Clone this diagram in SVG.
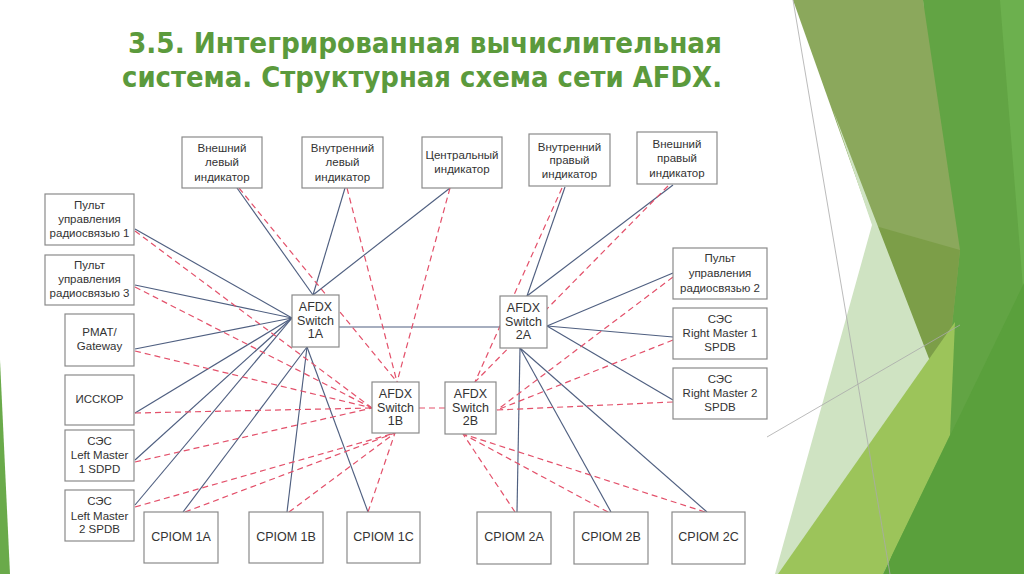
<svg xmlns="http://www.w3.org/2000/svg" width="1024" height="574" viewBox="0 0 1024 574">
<style>
.bx{fill:#fff;stroke:#8a8a8a;stroke-width:1.2}
.t{font-family:"Liberation Sans",Arial,sans-serif;font-size:11.5px;fill:#333;text-anchor:middle}
.ts{font-family:"Liberation Sans",Arial,sans-serif;font-size:12.5px;fill:#333;text-anchor:middle}
.a{stroke:#4f5f80;stroke-width:1.15;fill:none}
.b{stroke:#e3506a;stroke-width:1.2;stroke-dasharray:6 4;fill:none}
.title{font-family:"DejaVu Sans Condensed","Liberation Sans",sans-serif;font-weight:bold;font-size:29px;fill:#5b9a3c}
</style>
<rect width="1024" height="574" fill="#fff"/>
<g id="decor">
<polygon points="923,0 1024,0 1024,574 870,574 942,420" fill="#62a444"/>
<polygon points="1000,0 1024,0 1024,300" fill="#6cb04e"/>
<polygon points="793,0 923,0 960,250 942,420" fill="#8ba85c"/>
<polygon points="872,225 960,250 942,420" fill="#7c9e48"/>
<polygon points="833,110 872,225 775,574 885,574 945,400" fill="#cfe3c2"/>
<polygon points="778,574 883,574 950,435 955,322" fill="#9cc45a"/>
<polygon points="883,574 1024,574 1024,283" fill="#5aa03c"/>
<line x1="793" y1="0" x2="890" y2="574" stroke="#aaaaaa" stroke-width="0.8"/>
<line x1="767" y1="437" x2="960" y2="325" stroke="#aaaaaa" stroke-width="0.8"/>
<polygon points="0,360 10,574 0,574" fill="#6aaa4a"/>
</g>
<g id="title">
<text class="title" x="128" y="53" textLength="594" lengthAdjust="spacingAndGlyphs">3.5. Интегрированная вычислительная</text>
<text class="title" x="122" y="87" textLength="600" lengthAdjust="spacingAndGlyphs">система. Структурная схема сети AFDX.</text>
</g>
<g id="connectors">
<line class="a" x1="237" y1="188" x2="313" y2="295"/>
<line class="a" x1="345" y1="188" x2="313" y2="295"/>
<line class="a" x1="450" y1="188" x2="313" y2="295"/>
<line class="a" x1="135" y1="229" x2="292" y2="318"/>
<line class="a" x1="135" y1="285" x2="292" y2="318"/>
<line class="a" x1="135" y1="349" x2="292" y2="318"/>
<line class="a" x1="135" y1="413" x2="292" y2="318"/>
<line class="a" x1="135" y1="460" x2="292" y2="318"/>
<line class="a" x1="135" y1="505" x2="292" y2="318"/>
<line class="a" x1="183" y1="512" x2="307" y2="347"/>
<line class="a" x1="287" y1="512" x2="307" y2="347"/>
<line class="a" x1="368" y1="512" x2="307" y2="347"/>
<line class="a" x1="339" y1="327" x2="500" y2="327"/>
<line class="a" x1="565" y1="187" x2="527" y2="296"/>
<line class="a" x1="673" y1="185" x2="527" y2="296"/>
<line class="a" x1="673" y1="273" x2="547" y2="326"/>
<line class="a" x1="673" y1="337" x2="547" y2="326"/>
<line class="a" x1="673" y1="400" x2="547" y2="326"/>
<line class="a" x1="520" y1="348" x2="517" y2="512"/>
<line class="a" x1="520" y1="348" x2="611" y2="512"/>
<line class="a" x1="520" y1="348" x2="707" y2="512"/>
<line class="b" x1="239" y1="188" x2="397" y2="382"/>
<line class="b" x1="347" y1="188" x2="397" y2="382"/>
<line class="b" x1="450" y1="188" x2="397" y2="382"/>
<line class="b" x1="135" y1="231" x2="372" y2="408"/>
<line class="b" x1="135" y1="287" x2="372" y2="408"/>
<line class="b" x1="135" y1="351" x2="372" y2="408"/>
<line class="b" x1="135" y1="413" x2="372" y2="408"/>
<line class="b" x1="135" y1="462" x2="372" y2="408"/>
<line class="b" x1="135" y1="507" x2="395" y2="433"/>
<line class="b" x1="185" y1="512" x2="395" y2="433"/>
<line class="b" x1="289" y1="512" x2="395" y2="433"/>
<line class="b" x1="368" y1="512" x2="395" y2="433"/>
<line class="b" x1="419" y1="408" x2="445" y2="408"/>
<line class="b" x1="562" y1="188" x2="475" y2="382"/>
<line class="b" x1="668" y1="186" x2="475" y2="382"/>
<line class="b" x1="673" y1="277" x2="497" y2="410"/>
<line class="b" x1="673" y1="340" x2="497" y2="410"/>
<line class="b" x1="673" y1="402" x2="497" y2="410"/>
<line class="b" x1="515" y1="512" x2="463" y2="434"/>
<line class="b" x1="608" y1="512" x2="463" y2="434"/>
<line class="b" x1="705" y1="512" x2="463" y2="434"/>
</g>
<g id="n-ext-left"><rect class="bx" x="182" y="137" width="80" height="51"/><text class="t" x="222" y="152">Внешний</text><text class="t" x="222" y="166">левый</text><text class="t" x="222" y="181">индикатор</text></g>
<g id="n-int-left"><rect class="bx" x="302" y="137" width="81" height="51"/><text class="t" x="342.5" y="152">Внутренний</text><text class="t" x="342.5" y="166">левый</text><text class="t" x="342.5" y="181">индикатор</text></g>
<g id="n-center"><rect class="bx" x="422" y="137" width="80" height="51"/><text class="t" x="462" y="159">Центральный</text><text class="t" x="462" y="173">индикатор</text></g>
<g id="n-int-right"><rect class="bx" x="529" y="134" width="81" height="52"/><text class="t" x="569.5" y="151">Внутренний</text><text class="t" x="569.5" y="164">правый</text><text class="t" x="569.5" y="178">индикатор</text></g>
<g id="n-ext-right"><rect class="bx" x="637" y="132" width="80" height="52"/><text class="t" x="677" y="148">Внешний</text><text class="t" x="677" y="162">правый</text><text class="t" x="677" y="177">индикатор</text></g>
<g id="n-radio1"><rect class="bx" x="45" y="194" width="89" height="51"/><text class="t" x="89.5" y="209">Пульт</text><text class="t" x="89.5" y="223">управления</text><text class="t" x="89.5" y="237">радиосвязью 1</text></g>
<g id="n-radio3"><rect class="bx" x="45" y="255" width="89" height="50"/><text class="t" x="89.5" y="269">Пульт</text><text class="t" x="89.5" y="283">управления</text><text class="t" x="89.5" y="297">радиосвязью 3</text></g>
<g id="n-pmat"><rect class="bx" x="65" y="314" width="69" height="52"/><text class="t" x="99.5" y="336">PMAT/</text><text class="t" x="99.5" y="350">Gateway</text></g>
<g id="n-isskor"><rect class="bx" x="65" y="375" width="69" height="50"/><text class="t" x="99.5" y="403">ИССКОР</text></g>
<g id="n-lm1"><rect class="bx" x="65" y="430" width="69" height="51"/><text class="t" x="99.5" y="445">СЭС</text><text class="t" x="99.5" y="459">Left Master</text><text class="t" x="99.5" y="473">1 SDPD</text></g>
<g id="n-lm2"><rect class="bx" x="65" y="490" width="69" height="51"/><text class="t" x="99.5" y="505">СЭС</text><text class="t" x="99.5" y="520">Left Master</text><text class="t" x="99.5" y="533">2 SPDB</text></g>
<g id="n-sw1a"><rect class="bx" x="292" y="295" width="47" height="52"/><text class="ts" x="315.5" y="311">AFDX</text><text class="ts" x="315.5" y="325">Switch</text><text class="ts" x="315.5" y="338">1A</text></g>
<g id="n-sw1b"><rect class="bx" x="372" y="382" width="47" height="51"/><text class="ts" x="395.5" y="398">AFDX</text><text class="ts" x="395.5" y="412">Switch</text><text class="ts" x="395.5" y="425">1B</text></g>
<g id="n-sw2a"><rect class="bx" x="500" y="296" width="47" height="52"/><text class="ts" x="523.5" y="312">AFDX</text><text class="ts" x="523.5" y="326">Switch</text><text class="ts" x="523.5" y="339">2A</text></g>
<g id="n-sw2b"><rect class="bx" x="445" y="382" width="51" height="52"/><text class="ts" x="470.5" y="398">AFDX</text><text class="ts" x="470.5" y="412">Switch</text><text class="ts" x="470.5" y="425">2B</text></g>
<g id="n-cpiom1a"><rect class="bx" x="144" y="512" width="74" height="51"/><text class="ts" x="181" y="541">CPIOM 1A</text></g>
<g id="n-cpiom1b"><rect class="bx" x="249" y="512" width="74" height="51"/><text class="ts" x="286" y="541">CPIOM 1B</text></g>
<g id="n-cpiom1c"><rect class="bx" x="347" y="512" width="73" height="51"/><text class="ts" x="383.5" y="541">CPIOM 1C</text></g>
<g id="n-cpiom2a"><rect class="bx" x="477" y="512" width="74" height="52"/><text class="ts" x="514" y="541">CPIOM 2A</text></g>
<g id="n-cpiom2b"><rect class="bx" x="574" y="512" width="74" height="52"/><text class="ts" x="611" y="541">CPIOM 2B</text></g>
<g id="n-cpiom2c"><rect class="bx" x="672" y="512" width="73" height="52"/><text class="ts" x="708.5" y="541">CPIOM 2C</text></g>
<g id="n-radio2"><rect class="bx" x="673" y="248" width="94" height="51"/><text class="t" x="720" y="262">Пульт</text><text class="t" x="720" y="277">управления</text><text class="t" x="720" y="292">радиосвязью 2</text></g>
<g id="n-rm1"><rect class="bx" x="673" y="308" width="94" height="51"/><text class="t" x="720" y="323">СЭС</text><text class="t" x="720" y="337">Right Master 1</text><text class="t" x="720" y="351">SPDB</text></g>
<g id="n-rm2"><rect class="bx" x="673" y="368" width="94" height="51"/><text class="t" x="720" y="383">СЭС</text><text class="t" x="720" y="397">Right Master 2</text><text class="t" x="720" y="411">SPDB</text></g>
</svg>
